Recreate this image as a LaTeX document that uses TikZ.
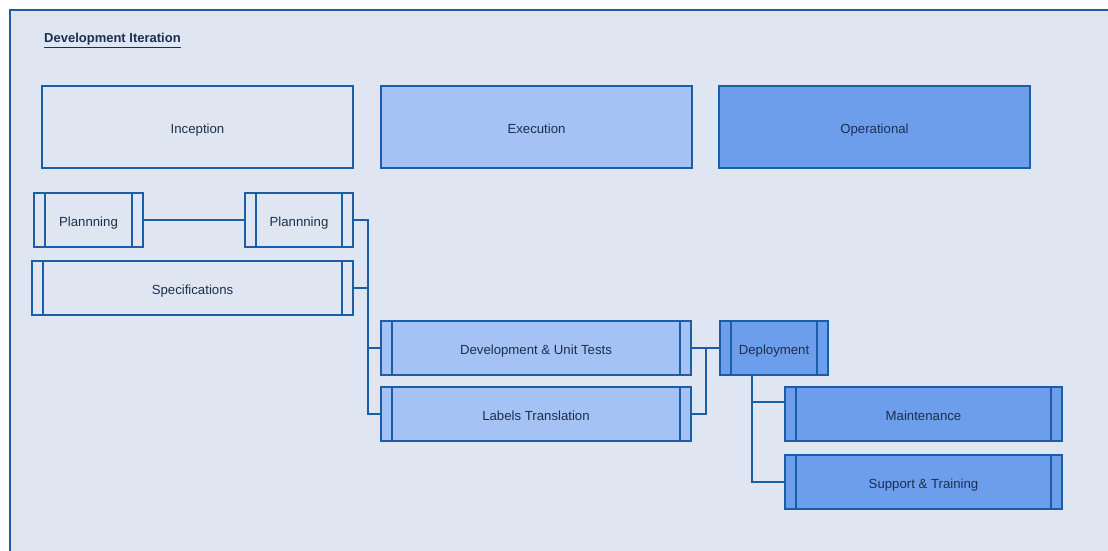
\documentclass[tikz,border=0pt]{standalone}
\usepackage{fontspec}
\setmainfont{Liberation Sans}
\usetikzlibrary{calc}

\definecolor{pagebg}{HTML}{DFE6F1}
\definecolor{edge}{HTML}{1A5EA8}
\definecolor{ink}{HTML}{1C2F50}
\definecolor{fillA}{HTML}{DFE6F1}
\definecolor{fillB}{HTML}{A4C2F4}
\definecolor{fillC}{HTML}{6D9EEB}

\tikzset{
  boxtext/.style={text=ink, font=\fontsize{13.2}{15}\selectfont,
    text height=12pt, text depth=0pt},
  phase/.style={draw=edge, line width=2pt, rectangle, inner sep=0pt, boxtext,
    minimum width=311pt, minimum height=82pt},
  proc/.style={draw=edge, line width=2pt, rectangle, inner sep=0pt, boxtext,
    minimum height=54pt,
    path picture={
      \draw[edge, line width=2pt]
        ([xshift=11pt]path picture bounding box.north west) --
        ([xshift=11pt]path picture bounding box.south west)
        ([xshift=-11pt]path picture bounding box.north east) --
        ([xshift=-11pt]path picture bounding box.south east);
    }},
  link/.style={draw=edge, line width=2pt}
}

\begin{document}
\begin{tikzpicture}[x=1pt, y=-1pt]
  \useasboundingbox (0,0) rectangle (1108,551);
  % page frame, open to the right and bottom
  \fill[white] (0,0) rectangle (1108,551);
  \fill[pagebg] (10,10) rectangle (1108,551);
  \draw[edge, line width=2pt] (10,560) -- (10,10) -- (1120,10);

  \node[anchor=base west, inner sep=0pt, text=ink,
        font=\bfseries\fontsize{13}{15}\selectfont]
    (title) at (44,43) {\underline{Development Iteration}};

  % phase headers
  \node[phase, fill=fillA] (inc) at (197.5,127) {Inception};
  \node[phase, fill=fillB] (exe) at (536.5,127) {Execution};
  \node[phase, fill=fillC] (ops) at (874.5,127) {Operational};

  % activities
  \node[proc, fill=fillA, minimum width=109pt] (planA) at (88.5,220) {Plannning};
  \node[proc, fill=fillA, minimum width=108pt] (planB) at (299,220) {Plannning};
  \node[proc, fill=fillA, minimum width=321pt] (spec) at (192.5,288) {Specifications};
  \node[proc, fill=fillB, minimum width=310pt] (dev) at (536,348) {Development \& Unit Tests};
  \node[proc, fill=fillB, minimum width=310pt] (lbl) at (536,414) {Labels Translation};
  \node[proc, fill=fillC, minimum width=108pt] (dep) at (774,348) {Deployment};
  \node[proc, fill=fillC, minimum width=277pt] (mnt) at (923.5,414) {Maintenance};
  \node[proc, fill=fillC, minimum width=277pt] (sup) at (923.5,482) {Support \& Training};

  % bus lines
  \coordinate (busA) at (368,0);
  \coordinate (busB) at (706,0);
  \coordinate (busC) at (752,0);
  \coordinate (mntIn) at ($(mnt.west)+(0,-12)$);

  \draw[link] (planA.east) -- (planB.west);
  \draw[link] (planB.east) -- (planB.east -| busA) |- (lbl.west);
  \draw[link] (spec.east) -- (spec.east -| busA);
  \draw[link] (dev.west) -- (dev.west -| busA);

  \draw[link] (dev.east) -- (dep.west);
  \draw[link] (lbl.east) -- (lbl.east -| busB) -- (busB |- dev.east);

  \draw[link] (dep.south -| busC) |- (sup.west);
  \draw[link] (mntIn) -- (busC |- mntIn);
\end{tikzpicture}
\end{document}
